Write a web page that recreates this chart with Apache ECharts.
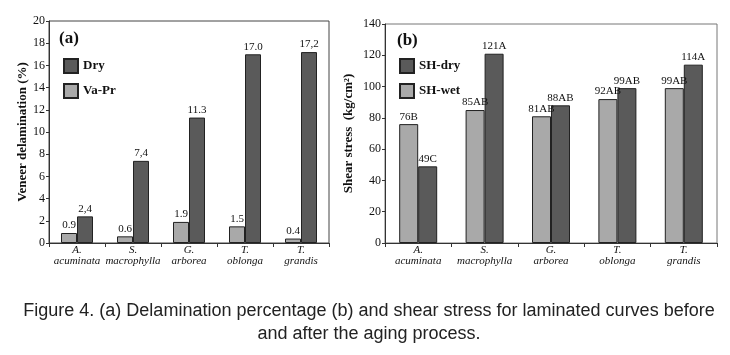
<!DOCTYPE html>
<html>
<head>
<meta charset="utf-8">
<title>Figure 4</title>
<script src="https://cdn.jsdelivr.net/npm/echarts@6/dist/echarts.min.js"></script>
<style>
  * { margin: 0; padding: 0; }
  body { background: #fff; }
  #main { width: 730px; height: 355px; }
</style>
</head>
<body>
<div id="main"></div>
<script>
var species = ['A.\nacuminata', 'S.\nmacrophylla', 'G.\narborea', 'T.\noblonga', 'T.\ngrandis'];

// (a) delamination %
var vaPr = [0.9, 0.6, 1.9, 1.5, 0.4];
var dry = [2.4, 7.4, 11.3, 17.0, 17.2];
var vaPrLabels = ['0.9', '0.6', '1.9', '1.5', '0.4'];
var dryLabels = ['2,4', '7,4', '11.3', '17.0', '17,2'];

// (b) shear stress kg/cm2
var shWet = [76, 85, 81, 92, 99];
var shDry = [49, 121, 88, 99, 114];
var shWetLabels = ['76B', '85AB', '81AB', '92AB', '99AB'];
var shDryLabels = ['49C', '121A', '88AB', '99AB', '114A'];

var serif = '"Liberation Serif", "DejaVu Serif", serif';
var darkC = '#5a5a5a', lightC = '#a9a9a9';

function xAx(idx) {
    return {
        type: 'category', gridIndex: idx, data: species,
        axisLine: { lineStyle: { color: '#333', width: 1 } },
        axisTick: { show: true, length: 4, lineStyle: { color: '#333' } },
        axisLabel: {
            interval: 0, margin: 2, color: '#111', fontFamily: serif,
            fontStyle: 'italic', fontSize: 11, lineHeight: 11
        }
    };
}
function yAx(idx, max, step, name, gap) {
    return {
        type: 'value', gridIndex: idx, min: 0, max: max, interval: step,
        name: name, nameLocation: 'middle', nameGap: gap,
        nameTextStyle: { fontFamily: serif, fontWeight: 'bold', fontSize: 13, color: '#111' },
        axisLine: { show: true, lineStyle: { color: '#333', width: 1 } },
        axisTick: { show: true, length: 3, lineStyle: { color: '#333' } },
        axisLabel: { margin: 4, color: '#111', fontFamily: serif, fontSize: 12 },
        splitLine: { show: false }
    };
}
function bar(name, data, labels, color, xi, bw) {
    return {
        name: name, type: 'bar', xAxisIndex: xi, yAxisIndex: xi,
        data: data, barWidth: bw, barGap: '0%',
        itemStyle: { color: color, borderColor: '#222', borderWidth: 1 },
        label: {
            show: true, position: 'top', distance: 2,
            fontFamily: serif, fontSize: 11, color: '#111',
            formatter: function (p) { return labels[p.dataIndex]; }
        }
    };
}
var legendText = { fontFamily: serif, fontWeight: 'bold', fontSize: 13, color: '#111' };

var myChart = echarts.init(document.getElementById('main'));
var option = {
    animation: false,
    title: [
        { text: '(a)', left: 54, top: 25, textStyle: { fontFamily: serif, fontWeight: 'bold', fontSize: 17, color: '#111' } },
        { text: '(b)', left: 392, top: 27, textStyle: { fontFamily: serif, fontWeight: 'bold', fontSize: 17, color: '#111' } },
        {
            text: 'Figure 4. (a) Delamination percentage (b) and shear stress for laminated curves before\nand after the aging process.',
            left: 364, top: 295, textAlign: 'center',
            textStyle: { fontFamily: '"Liberation Sans", Arial, sans-serif', fontWeight: 'normal', fontSize: 18, lineHeight: 23, color: '#222' }
        }
    ],
    legend: [
        {
            data: ['Dry', 'Va-Pr'], orient: 'vertical', left: 58, top: 53,
            itemWidth: 14, itemHeight: 14, itemGap: 9, icon: 'rect',
            textStyle: legendText, selectedMode: false
        },
        {
            data: ['SH-dry', 'SH-wet'], orient: 'vertical', left: 394, top: 53,
            itemWidth: 14, itemHeight: 14, itemGap: 9, icon: 'rect',
            textStyle: legendText, selectedMode: false
        }
    ],
    grid: [
        { left: 49, top: 21, width: 280, height: 222, show: true, borderColor: '#444', borderWidth: 1 },
        { left: 385, top: 24, width: 332, height: 219, show: true, borderColor: '#777', borderWidth: 1 }
    ],
    xAxis: [xAx(0), xAx(1)],
    yAxis: [
        yAx(0, 20, 2, 'Veneer delamination (%)', 20),
        yAx(1, 140, 20, 'Shear stress  (kg/cm²)', 30)
    ],
    series: [
        bar('Va-Pr', vaPr, vaPrLabels, lightC, 0, 16),
        bar('Dry', dry, dryLabels, darkC, 0, 16),
        bar('SH-wet', shWet, shWetLabels, lightC, 1, 19),
        bar('SH-dry', shDry, shDryLabels, darkC, 1, 19)
    ]
};
myChart.setOption(option);
</script>
</body>
</html>
